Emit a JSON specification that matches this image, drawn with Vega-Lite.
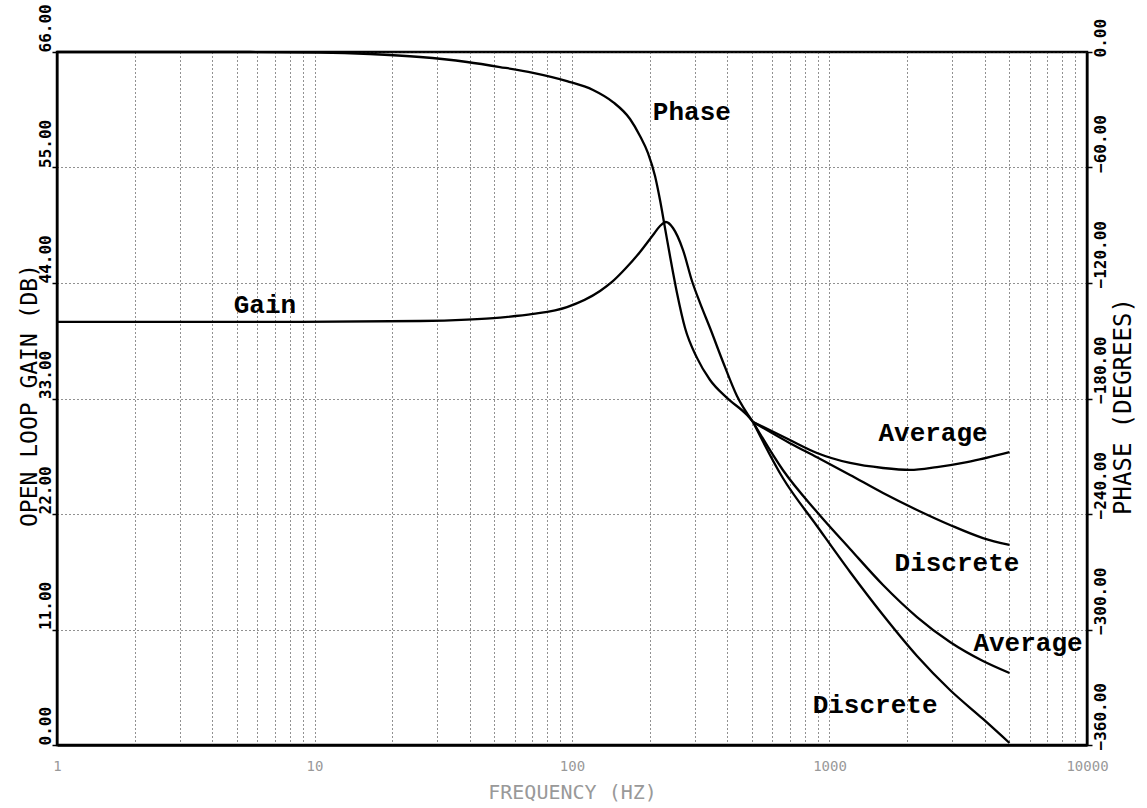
{
  "$schema": "https://vega.github.io/schema/vega-lite/v6.json",
  "width": 1030,
  "height": 693,
  "autosize": {"type": "none"},
  "padding": {"left": 57, "top": 52, "right": 60, "bottom": 63},
  "background": "white",
  "config": {"font": "DejaVu Sans Mono", "view": {"stroke": "black", "strokeWidth": 2.5}},
  "datasets": {
    "gain": [
      {"series": "Gain", "freq": 1, "db": 40.29},
      {"series": "Gain", "freq": 8.78, "db": 40.29},
      {"series": "Gain", "freq": 25.7, "db": 40.38},
      {"series": "Gain", "freq": 39.1, "db": 40.52},
      {"series": "Gain", "freq": 52.5, "db": 40.71},
      {"series": "Gain", "freq": 70.6, "db": 41.05},
      {"series": "Gain", "freq": 95.6, "db": 41.71},
      {"series": "Gain", "freq": 128.5, "db": 43.24},
      {"series": "Gain", "freq": 143.0, "db": 44.10},
      {"series": "Gain", "freq": 160.7, "db": 45.33},
      {"series": "Gain", "freq": 183.7, "db": 46.95},
      {"series": "Gain", "freq": 206.4, "db": 48.57},
      {"series": "Gain", "freq": 219.7, "db": 49.43},
      {"series": "Gain", "freq": 231.7, "db": 49.81},
      {"series": "Gain", "freq": 246.7, "db": 49.24},
      {"series": "Gain", "freq": 269.9, "db": 47.14},
      {"series": "Gain", "freq": 292.4, "db": 44.19},
      {"series": "Gain", "freq": 314.1, "db": 42.1},
      {"series": "Gain", "freq": 343.6, "db": 39.71},
      {"series": "Gain", "freq": 385.9, "db": 36.48},
      {"series": "Gain", "freq": 437.2, "db": 33.24},
      {"series": "Gain", "freq": 504.7, "db": 30.76},
      {"series": "Gain Average", "freq": 504.7, "db": 30.76},
      {"series": "Gain Average", "freq": 659, "db": 26.19},
      {"series": "Gain Average", "freq": 894, "db": 22.19},
      {"series": "Gain Average", "freq": 1202, "db": 18.67},
      {"series": "Gain Average", "freq": 1614, "db": 15.24},
      {"series": "Gain Average", "freq": 2187, "db": 12.19},
      {"series": "Gain Average", "freq": 2937, "db": 9.81},
      {"series": "Gain Average", "freq": 3945, "db": 8.0},
      {"series": "Gain Average", "freq": 5000, "db": 6.86},
      {"series": "Gain Discrete", "freq": 504.7, "db": 30.76},
      {"series": "Gain Discrete", "freq": 659, "db": 25.43},
      {"series": "Gain Discrete", "freq": 894, "db": 20.86},
      {"series": "Gain Discrete", "freq": 1202, "db": 16.48},
      {"series": "Gain Discrete", "freq": 1614, "db": 12.38},
      {"series": "Gain Discrete", "freq": 2187, "db": 8.48},
      {"series": "Gain Discrete", "freq": 2937, "db": 5.24},
      {"series": "Gain Discrete", "freq": 3945, "db": 2.48},
      {"series": "Gain Discrete", "freq": 5000, "db": 0.19}
    ],
    "phase": [
      {"series": "Phase", "freq": 1, "deg": 0},
      {"series": "Phase", "freq": 5.62, "deg": 0},
      {"series": "Phase", "freq": 10.5, "deg": -0.26},
      {"series": "Phase", "freq": 16.4, "deg": -1.04},
      {"series": "Phase", "freq": 25.7, "deg": -2.6},
      {"series": "Phase", "freq": 39.1, "deg": -5.2},
      {"series": "Phase", "freq": 52.5, "deg": -7.8},
      {"series": "Phase", "freq": 70.6, "deg": -10.8},
      {"series": "Phase", "freq": 95.6, "deg": -15.1},
      {"series": "Phase", "freq": 120.7, "deg": -19.7},
      {"series": "Phase", "freq": 144.3, "deg": -26.0},
      {"series": "Phase", "freq": 168.0, "deg": -34.8},
      {"series": "Phase", "freq": 183.7, "deg": -43.6},
      {"series": "Phase", "freq": 197.3, "deg": -52.5},
      {"series": "Phase", "freq": 210.1, "deg": -64.4},
      {"series": "Phase", "freq": 219.7, "deg": -76.9},
      {"series": "Phase", "freq": 229.7, "deg": -91.4},
      {"series": "Phase", "freq": 240.2, "deg": -106.0},
      {"series": "Phase", "freq": 255.7, "deg": -125.2},
      {"series": "Phase", "freq": 274.8, "deg": -143.4},
      {"series": "Phase", "freq": 305.8, "deg": -158.9},
      {"series": "Phase", "freq": 343.6, "deg": -170.4},
      {"series": "Phase", "freq": 399.9, "deg": -179.7},
      {"series": "Phase", "freq": 478.2, "deg": -188.6},
      {"series": "Phase", "freq": 504.7, "deg": -192.2},
      {"series": "Phase Average", "freq": 504.7, "deg": -192.2},
      {"series": "Phase Average", "freq": 702, "deg": -201.6},
      {"series": "Phase Average", "freq": 894, "deg": -208.3},
      {"series": "Phase Average", "freq": 1202, "deg": -213.5},
      {"series": "Phase Average", "freq": 1614, "deg": -216.1},
      {"series": "Phase Average", "freq": 2054, "deg": -217.1},
      {"series": "Phase Average", "freq": 2613, "deg": -215.6},
      {"series": "Phase Average", "freq": 3420, "deg": -213.0},
      {"series": "Phase Average", "freq": 5000, "deg": -207.8},
      {"series": "Phase Discrete", "freq": 504.7, "deg": -192.2},
      {"series": "Phase Discrete", "freq": 702, "deg": -203.2},
      {"series": "Phase Discrete", "freq": 894, "deg": -210.5},
      {"series": "Phase Discrete", "freq": 1202, "deg": -219.7},
      {"series": "Phase Discrete", "freq": 1614, "deg": -229.1},
      {"series": "Phase Discrete", "freq": 2187, "deg": -237.9},
      {"series": "Phase Discrete", "freq": 2937, "deg": -245.7},
      {"series": "Phase Discrete", "freq": 3945, "deg": -252.5},
      {"series": "Phase Discrete", "freq": 5000, "deg": -256.1}
    ],
    "gainLabels": [
      {"text": "Gain", "freq": 6.42, "db": 41.9},
      {"text": "Average", "freq": 5900, "db": 9.7},
      {"text": "Discrete", "freq": 1503, "db": 3.8}
    ],
    "phaseLabels": [
      {"text": "Phase", "freq": 292, "deg": -31.2},
      {"text": "Average", "freq": 2524, "deg": -197.9},
      {"text": "Discrete", "freq": 3126, "deg": -265.5}
    ]
  },
  "encoding": {
    "x": {
      "field": "freq",
      "type": "quantitative",
      "scale": {"type": "log", "domain": [1, 10000], "nice": false},
      "axis": {
        "values": [1,2,3,4,5,6,7,8,9,10,20,30,40,50,60,70,80,90,100,200,300,400,500,600,700,800,900,1000,2000,3000,4000,5000,6000,7000,8000,9000,10000],
        "format": "d",
        "labelExpr": "indexof([1,10,100,1000,10000], datum.value) >= 0 ? datum.label : ''",
        "labelColor": "#999999",
        "labelFontSize": 14,
        "labelPadding": 14,
        "labelFlush": false,
        "labelOverlap": false,
        "ticks": false,
        "domainColor": "black",
        "domainWidth": 2.5,
        "grid": true,
        "gridColor": "#222222",
        "gridDash": [1, 3],
        "gridWidth": 1,
        "title": "FREQUENCY (HZ)",
        "titleColor": "#999999",
        "titleFontSize": 20,
        "titleFontWeight": "normal",
        "titleY": 47,
        "titleBaseline": "middle"
      }
    }
  },
  "layer": [
    {
      "encoding": {
        "y": {
          "field": "db",
          "type": "quantitative",
          "scale": {"domain": [0, 66], "nice": false, "zero": false},
          "axis": {
            "orient": "left",
            "values": [0, 11, 22, 33, 44, 55, 66],
            "format": ".2f",
            "labelAngle": 270,
            "labelAlign": "left",
            "labelBaseline": "alphabetic",
            "labelFontSize": 16,
            "labelFontWeight": "bold",
            "labelPadding": 2,
            "labelColor": "black",
            "labelFlush": false,
            "labelOverlap": false,
            "tickSize": 5,
            "tickColor": "black",
            "tickWidth": 1.5,
            "domainColor": "black",
            "domainWidth": 2,
            "grid": true,
            "gridColor": "#222222",
            "gridDash": [1, 3],
            "gridWidth": 1,
            "title": "OPEN LOOP GAIN (DB)",
            "titleAngle": 270,
            "titleAlign": "center",
            "titleBaseline": "alphabetic",
            "titleX": -21,
            "titleY": 343,
            "titleFontSize": 23,
            "titleFontWeight": "normal",
            "titleColor": "black"
          }
        }
      },
      "layer": [
        {
          "data": {"name": "gain"},
          "mark": {"type": "line", "color": "black", "strokeWidth": 2.3, "interpolate": "monotone"},
          "encoding": {"detail": {"field": "series"}}
        },
        {
          "data": {"name": "gainLabels"},
          "mark": {"type": "text", "font": "Liberation Mono", "fontSize": 26, "fontWeight": "bold", "color": "black", "align": "center", "baseline": "middle"},
          "encoding": {"text": {"field": "text"}}
        }
      ]
    },
    {
      "encoding": {
        "y": {
          "field": "deg",
          "type": "quantitative",
          "scale": {"domain": [-360, 0], "nice": false, "zero": false},
          "axis": {
            "orient": "right",
            "values": [0, -60, -120, -180, -240, -300, -360],
            "format": ".2f",
            "labelAngle": 270,
            "labelAlign": "left",
            "labelBaseline": "alphabetic",
            "labelFontSize": 16,
            "labelFontWeight": "bold",
            "labelPadding": 13,
            "labelOffset": 5,
            "labelColor": "black",
            "labelFlush": false,
            "labelOverlap": false,
            "tickSize": 5,
            "tickColor": "black",
            "tickWidth": 1.5,
            "domainColor": "black",
            "domainWidth": 2,
            "grid": false,
            "title": "PHASE (DEGREES)",
            "titleAngle": 270,
            "titleAlign": "center",
            "titleBaseline": "alphabetic",
            "titleX": 43,
            "titleY": 354,
            "titleFontSize": 24,
            "titleFontWeight": "normal",
            "titleColor": "black"
          }
        }
      },
      "layer": [
        {
          "data": {"name": "phase"},
          "mark": {"type": "line", "color": "black", "strokeWidth": 2.3, "interpolate": "monotone"},
          "encoding": {"detail": {"field": "series"}}
        },
        {
          "data": {"name": "phaseLabels"},
          "mark": {"type": "text", "font": "Liberation Mono", "fontSize": 26, "fontWeight": "bold", "color": "black", "align": "center", "baseline": "middle"},
          "encoding": {"text": {"field": "text"}}
        }
      ]
    }
  ],
  "resolve": {"scale": {"y": "independent"}}
}
